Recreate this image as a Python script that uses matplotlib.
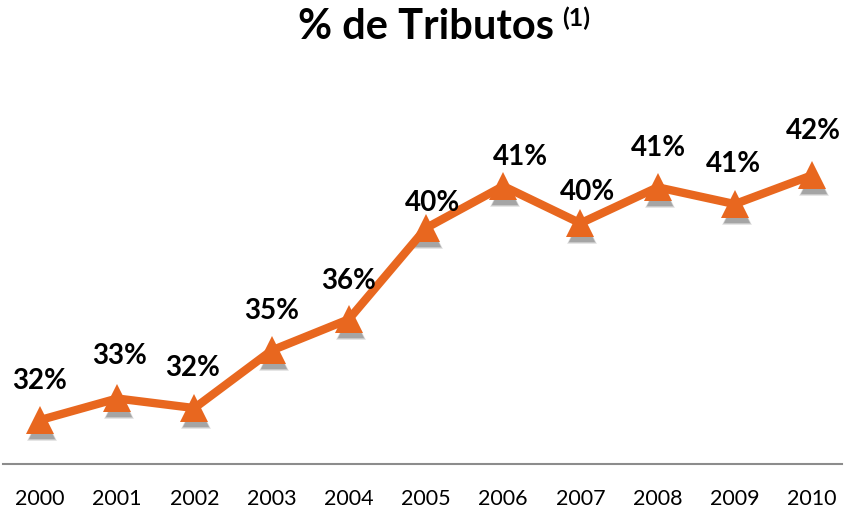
import matplotlib.pyplot as plt
import matplotlib.transforms as mtransforms

# data
years = [2000, 2001, 2002, 2003, 2004, 2005, 2006, 2007, 2008, 2009, 2010]
tributos = [31.7, 32.6, 32.2, 34.6, 35.9, 39.7, 41.45, 39.9, 41.4, 40.7, 41.9]
title = '% de Tributos'
title_note = '(1)'

# label nudges (pixels) to mimic the hand-placed labels
lab_dx = [0, 2, -2, 0, 0, 7, 17, 7, 1, -1, 1]
lab_dy = [32, 35, 33, 32, 31, 18, 22, 24, 32, 33, 37]

orange = '#E8671F'
plt.rcParams['font.family'] = ['Lato', 'DejaVu Sans']

fig = plt.figure(figsize=(8.44, 5.10), dpi=100)
ax = fig.add_axes([3/844, 45/510, 839/844, 360/510])

# soft shadow under the markers: a few stacked, shifted grey triangles
for a, s in [(0.12, 21.5), (0.16, 20), (0.22, 18.5)]:
    shift = mtransforms.ScaledTranslation(2/100, -6/100, fig.dpi_scale_trans)
    ax.plot(years, tributos, ls='none', marker='^', ms=s, color='#303030',
            alpha=a, markeredgewidth=0, zorder=1,
            transform=ax.transData + shift)
ax.plot(years, tributos, color=orange, lw=6, solid_joinstyle='miter', zorder=2)
ax.plot(years, tributos, ls='none', marker='^', ms=19.5, color=orange,
        markeredgewidth=0, zorder=3)

for x, v, dx, dy in zip(years, tributos, lab_dx, lab_dy):
    ax.annotate('%d%%' % round(v), xy=(x, v),
                xytext=(dx*0.72, dy*0.72), textcoords='offset points',
                ha='center', va='baseline', fontsize=20, fontweight='bold',
                color='black')

ax.set_xlim(2000 - 37/77.2, 2010 + 30/77.2)
ax.set_ylim(29.87, 44.87)
ax.set_xticks(years)
ax.set_xticklabels([str(y) for y in years])
ax.set_yticks([])
for s in ['top', 'left', 'right']:
    ax.spines[s].set_visible(False)
ax.spines['bottom'].set_color('#8c8c8c')
ax.spines['bottom'].set_linewidth(1.5)
ax.tick_params(axis='x', length=0, pad=17, labelsize=15.5)

t = fig.text(0.505, 1 - 39/510, title, ha='center', va='baseline',
             fontsize=30, fontweight='bold')
ax.annotate(title_note, xy=(1, 1), xycoords=t, xytext=(6, 1),
            textcoords='offset points', ha='left', va='top',
            fontsize=18, fontweight='bold')

fig.savefig('out.png', dpi=100)
